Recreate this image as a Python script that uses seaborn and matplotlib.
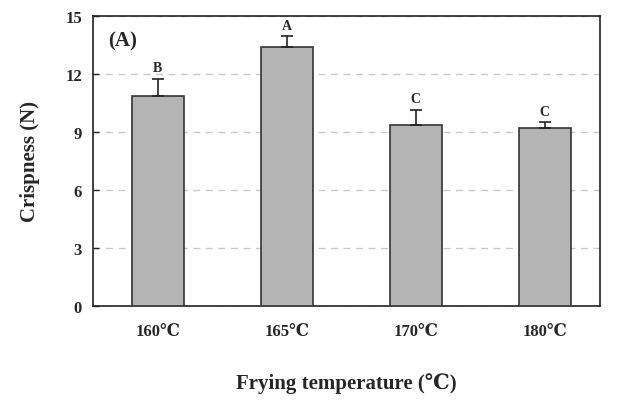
import seaborn as sns
import matplotlib.pyplot as plt

# Data
temps = ["160℃", "165℃", "170℃", "180℃"]
crispness = [10.85, 13.4, 9.35, 9.2]
sd = [0.9, 0.55, 0.8, 0.3]
letters = ["B", "A", "C", "C"]

sns.set_style("white")
plt.rcParams['font.family'] = ['Liberation Serif', 'DejaVu Serif']
plt.rcParams['font.weight'] = 'bold'

fig = plt.figure(figsize=(6.17, 4.06), dpi=100)
ax = fig.add_axes([0.151, 0.244, 0.822, 0.714])

sns.barplot(x=temps, y=crispness, color="#b4b4b4", width=0.4,
            edgecolor="#333333", linewidth=1.2, saturation=1, ax=ax, zorder=3)

xs = range(len(temps))
ax.errorbar(xs, crispness, yerr=[[0] * 4, sd], fmt="none", ecolor="#222222",
            elinewidth=1.2, capsize=4, capthick=1.2, zorder=4)
for x, m, s, t in zip(xs, crispness, sd, letters):
    ax.text(x, m + s + 0.25, t, ha="center", va="bottom", fontsize=10, fontweight="bold")

ax.set_ylim(0, 15)
ax.set_xlim(-0.5, 3.43)
ax.set_yticks([0, 3, 6, 9, 12, 15])
ax.yaxis.grid(True, linestyle=(0, (5, 4)), color="#c8c8c8", linewidth=1, zorder=0)
ax.set_axisbelow(True)
ax.set_xticks([0.5, 1.5, 2.5], minor=True)
ax.tick_params(axis="x", which="major", length=0, pad=12, labelsize=12)
ax.tick_params(axis="x", which="minor", direction="in", length=4, width=1)
ax.tick_params(axis="y", direction="in", length=4, width=1, left=True, labelsize=12, pad=8)
for lab in ax.get_xticklabels() + ax.get_yticklabels():
    lab.set_fontweight("bold")
for sp in ax.spines.values():
    sp.set_color("#222222")
    sp.set_linewidth(1.2)

ax.set_ylabel("Crispness (N)", fontsize=15, fontweight="bold", labelpad=18)
ax.set_xlabel("Frying temperature (℃)", fontsize=15, fontweight="bold", labelpad=24)
ax.text(0.03, 0.9, "(A)", transform=ax.transAxes, fontsize=15, fontweight="bold")

fig.savefig("out.png", dpi=100)
